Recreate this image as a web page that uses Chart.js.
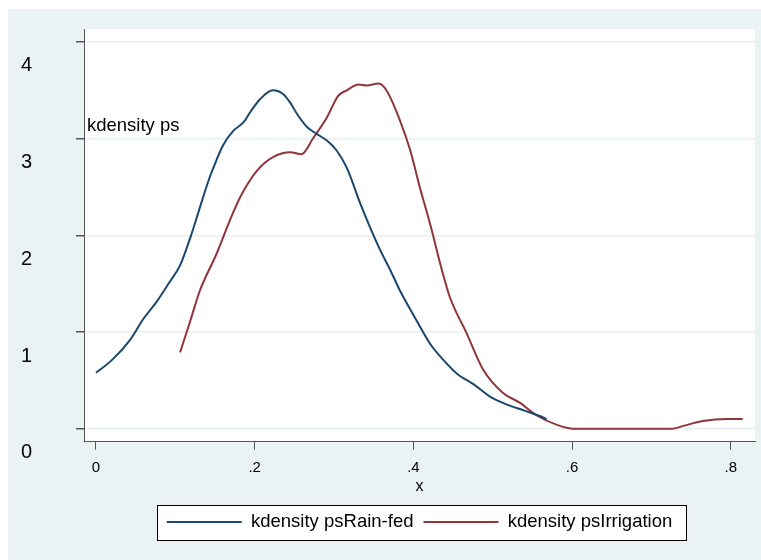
<!DOCTYPE html>
<html>
<head>
<meta charset="utf-8">
<script src="https://cdn.jsdelivr.net/npm/chart.js@4.4.1/dist/chart.umd.min.js"></script>
<style>
  html, body { margin: 0; padding: 0; background: #fff; }
</style>
</head>
<body>
<canvas id="chart" width="761" height="560"></canvas>
<script>
// values
const seriesNames = ["kdensity psRain-fed", "kdensity psIrrigation"];

const rainX = [0, 0.020, 0.043, 0.060, 0.077, 0.093, 0.106, 0.119, 0.131, 0.142,
  0.148, 0.160, 0.173, 0.186, 0.194, 0.207, 0.223, 0.236, 0.245, 0.253,
  0.266, 0.278, 0.291, 0.303, 0.316, 0.333, 0.345, 0.358, 0.371, 0.383,
  0.404, 0.421, 0.438, 0.455, 0.476, 0.497, 0.518, 0.539, 0.560, 0.568];
const rainY = [0.58, 0.71, 0.92, 1.14, 1.32, 1.52, 1.69, 1.98, 2.29, 2.57,
  2.70, 2.93, 3.08, 3.17, 3.27, 3.41, 3.50, 3.46, 3.37, 3.26,
  3.12, 3.05, 2.98, 2.88, 2.70, 2.33, 2.09, 1.85, 1.64, 1.43,
  1.12, 0.88, 0.71, 0.57, 0.46, 0.33, 0.25, 0.19, 0.13, 0.10];

const irrX = [0.106, 0.119, 0.131, 0.152, 0.169, 0.182, 0.203, 0.223, 0.245, 0.259,
  0.274, 0.291, 0.305, 0.316, 0.331, 0.341, 0.356, 0.366, 0.383, 0.396,
  0.408, 0.421, 0.436, 0.446, 0.467, 0.488, 0.513, 0.534, 0.555, 0.581,
  0.602, 0.726, 0.740, 0.765, 0.795, 0.815];
const irrY = [0.79, 1.12, 1.43, 1.81, 2.16, 2.40, 2.67, 2.81, 2.86, 2.84,
  3.01, 3.22, 3.44, 3.50, 3.56, 3.55, 3.57, 3.50, 3.19, 2.88,
  2.50, 2.12, 1.64, 1.36, 0.99, 0.61, 0.37, 0.27, 0.14, 0.04,
  0.0, 0.0, 0.03, 0.08, 0.10, 0.10];

const xTicks = [0, 0.2, 0.4, 0.6, 0.8];
const xTickLabels = ["0", ".2", ".4", ".6", ".8"];
const yTicks = [0, 1, 2, 3, 4];
const yTickLabels = ["0", "1", "2", "3", "4"];
const xTitle = "x";
const yTitle = "kdensity ps";

Chart.defaults.font.family = "'Liberation Sans', Arial, sans-serif";
Chart.defaults.color = "#000";

const toPoints = (xs, ys) => xs.map((x, i) => ({ x: x, y: ys[i] }));

// stata-ish backdrop, white plot region, framed legend
const backdrop = {
  id: "backdrop",
  beforeDraw(chart) {
    const { ctx, chartArea: a } = chart;
    ctx.save();
    ctx.fillStyle = "#fff";
    ctx.fillRect(0, 0, chart.width, chart.height);
    ctx.fillStyle = "#eaf2f3";
    ctx.fillRect(8, 9, chart.width - 8, chart.height - 9);
    ctx.fillStyle = "#fff";
    ctx.fillRect(a.left, a.top, a.right - a.left, a.bottom - a.top);

    const boxes = chart.legend.legendHitBoxes;
    if (boxes && boxes.length) {
      const first = boxes[0];
      const last = boxes[boxes.length - 1];
      const cy = first.top + first.height / 2;
      const l = Math.round(first.left - 10);
      const r = Math.round(last.left + last.width + 14);
      const t = Math.round(cy - 17);
      ctx.fillStyle = "#fff";
      ctx.fillRect(l, t, r - l, 35);
      ctx.strokeStyle = "#000";
      ctx.lineWidth = 1;
      ctx.strokeRect(l + 0.5, t + 0.5, r - l, 35);
    }
    ctx.restore();
  },
  afterDatasetsDraw(chart) {
    // y title sits inside the plot, horizontal
    const { ctx, chartArea: a } = chart;
    const yScale = chart.scales.y;
    ctx.save();
    ctx.fillStyle = "#000";
    ctx.font = "18.5px 'Liberation Sans', Arial, sans-serif";
    ctx.textBaseline = "alphabetic";
    ctx.textAlign = "left";
    ctx.fillText(yTitle, a.left + 3, yScale.getPixelForValue(3) - 8);
    ctx.restore();
  }
};

new Chart(document.getElementById("chart"), {
  type: "line",
  data: {
    datasets: [
      {
        label: seriesNames[0],
        data: toPoints(rainX, rainY),
        borderColor: "#1a476f",
        backgroundColor: "#1a476f",
        borderWidth: 2,
        pointRadius: 0,
        fill: false,
        cubicInterpolationMode: "monotone",
      },
      {
        label: seriesNames[1],
        data: toPoints(irrX, irrY),
        borderColor: "#90353b",
        backgroundColor: "#90353b",
        borderWidth: 2,
        pointRadius: 0,
        fill: false,
        cubicInterpolationMode: "monotone",
      },
    ],
  },
  options: {
    responsive: false,
    animation: false,
    layout: { padding: { top: 29, right: 6, bottom: 18.75, left: 0 } },
    scales: {
      x: {
        type: "linear",
        min: -0.0151,
        max: 0.8305,
        afterBuildTicks: (s) => { s.ticks = xTicks.map((v) => ({ value: v })); },
        afterFit: (s) => {
          s.height = 61;
          s.paddingLeft = 0;
          s.paddingRight = 0;
        },
        ticks: {
          callback: (v, i) => xTickLabels[i],
          font: { size: 15 },
          color: "#000",
          padding: 9,
          maxRotation: 0,
          autoSkip: false,
        },
        grid: { drawOnChartArea: false, tickLength: 8, tickColor: "#555" },
        border: { color: "#555", width: 1 },
        title: {
          display: true,
          text: xTitle,
          font: { size: 16 },
          color: "#000",
          padding: { top: 0, bottom: 7 },
        },
      },
      y: {
        min: -0.134,
        max: 4.134,
        afterBuildTicks: (s) => { s.ticks = yTicks.map((v) => ({ value: v })); },
        afterFit: (s) => {
          s.width = 84;
          s.paddingTop = 0;
          s.paddingBottom = 0;
        },
        ticks: {
          callback: (v, i) => yTickLabels[i],
          font: { size: 20 },
          color: "#000",
          padding: 44,
          labelOffset: 24,
        },
        grid: { color: "#e8eff1", lineWidth: 1.5, tickLength: 8, tickColor: "#555" },
        border: { color: "#555", width: 1 },
      },
    },
    plugins: {
      tooltip: { enabled: false },
      legend: {
        position: "bottom",
        fullSize: false,
        labels: {
          boxWidth: 75,
          boxHeight: 2,
          padding: 10,
          color: "#000",
          font: { size: 18.5 },
          generateLabels: (chart) =>
            Chart.defaults.plugins.legend.labels.generateLabels(chart).map((l) => ({ ...l, lineWidth: 0 })),
        },
      },
    },
  },
  plugins: [backdrop],
});
</script>
</body>
</html>
